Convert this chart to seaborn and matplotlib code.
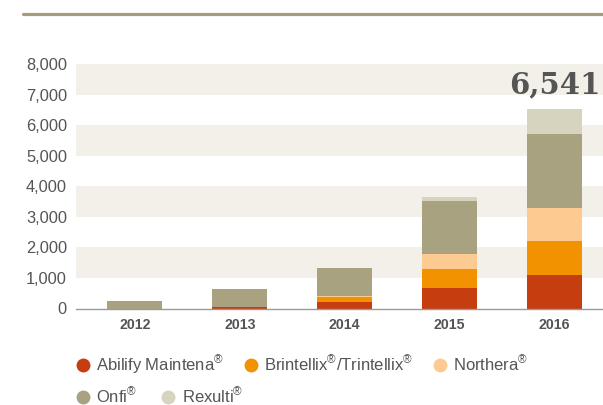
import matplotlib
matplotlib.use("Agg")
import matplotlib.pyplot as plt
from matplotlib.lines import Line2D
from matplotlib.ticker import FuncFormatter
import seaborn as sns
import pandas as pd
import numpy as np

#~~~~~~~~~~~~~~~~~~~~~~~~~~~~~~~~~~~~~~~~~~~~~~~~~~~~~~~~~~~~~~~~~~~~~~~~~~~~#
# data
years = ["2012", "2013", "2014", "2015", "2016"]
products = ["Abilify Maintena", "Brintellix/Trintellix", "Northera", "Onfi", "Rexulti"]
labels = [r"Abilify Maintena$^{®}$", r"Brintellix$^{®}$/Trintellix$^{®}$",
          r"Northera$^{®}$", r"Onfi$^{®}$", r"Rexulti$^{®}$"]
abilify = [0, 50, 200, 670, 1100]
brintellix = [0, 0, 190, 620, 1110]
northera = [0, 0, 30, 480, 1090]
onfi = [255, 580, 915, 1745, 2410]
rexulti = [0, 0, 0, 130, 831]
colors = ["#c63d0f", "#f39200", "#fdca92", "#a8a281", "#d6d3bf"]

series = [abilify, brintellix, northera, onfi, rexulti]
df = pd.DataFrame({"year": years})
cum = np.cumsum(np.array(series), axis=0)
for i, p in enumerate(products):
    df[p] = cum[i]

#~~~~~~~~~~~~~~~~~~~~~~~~~~~~~~~~~~~~~~~~~~~~~~~~~~~~~~~~~~~~~~~~~~~~~~~~~~~~#
# style
sns.set_theme(style="white")
plt.rcParams['font.family'] = ['Liberation Sans', 'DejaVu Sans']
plt.rcParams['mathtext.fontset'] = 'custom'
plt.rcParams['mathtext.rm'] = 'Liberation Sans'
plt.rcParams['mathtext.it'] = 'Liberation Sans:italic'
plt.rcParams['mathtext.bf'] = 'Liberation Sans:bold'

fig = plt.figure(figsize=(6.03, 4.05), dpi=100)
ax = fig.add_axes([76 / 603, 1 - 308.5 / 405, 1 - 76 / 603, (308.5 - 64) / 405])

# alternating bands
for lo in [1000, 3000, 5000, 7000]:
    ax.axhspan(lo, lo + 1000, color="#f2f0e8", zorder=0, lw=0)

# stacked bars: draw cumulative totals from the top layer down
for i in reversed(range(len(products))):
    sns.barplot(data=df, x="year", y=products[i], color=colors[i],
                width=0.52, saturation=1, linewidth=0, ax=ax, zorder=2)

ax.set_xlim(-0.56, 4.46)
ax.set_ylim(0, 8000)
ax.set_yticks(range(0, 8001, 1000))
ax.yaxis.set_major_formatter(FuncFormatter(lambda v, p: f"{int(v):,}"))
ax.set_xlabel("")
ax.set_ylabel("")
ax.grid(False)
for s in ["top", "right", "left"]:
    ax.spines[s].set_visible(False)
ax.spines["bottom"].set_color("#9a9a9a")
ax.spines["bottom"].set_linewidth(1)
ax.spines["bottom"].set_zorder(3)
ax.tick_params(axis="y", length=0, pad=6.5, labelsize=11.8, labelcolor="#555555")
ax.tick_params(axis="x", length=0, pad=7, labelsize=10.2, labelcolor="#555555")
for t in ax.get_xticklabels():
    t.set_fontweight("bold")

# total label on last bar
total = sum(s[-1] for s in series)
ax.annotate(f"{total:,}", xy=(4, total), xytext=(0, 11), textcoords="offset points",
            ha="center", va="baseline", fontsize=21, fontweight="bold",
            family="DejaVu Serif", color="#555555")

# top rule
fig.add_artist(Line2D([22.7 / 603, 1], [1 - 14.2 / 405] * 2, color="#a59c7a", lw=2.3))

# legend, two rows
handles = [Line2D([], [], marker="o", ls="", markersize=10, color=c, markeredgewidth=0)
           for c in colors]
leg_kw = dict(frameon=False, fontsize=12, handlelength=1.0, handletextpad=0.3,
              borderpad=0, borderaxespad=0, loc="center left",
              labelcolor="#555555")
fig.legend(handles[:3], labels[:3], ncol=3, columnspacing=1.1,
           bbox_to_anchor=(74.7 / 603, 1 - 365 / 405), **leg_kw)
fig.legend(handles[3:], labels[3:], ncol=2, columnspacing=1.35,
           bbox_to_anchor=(74.7 / 603, 1 - 395.5 / 405), **leg_kw)

plt.savefig("out.png", dpi=100)
